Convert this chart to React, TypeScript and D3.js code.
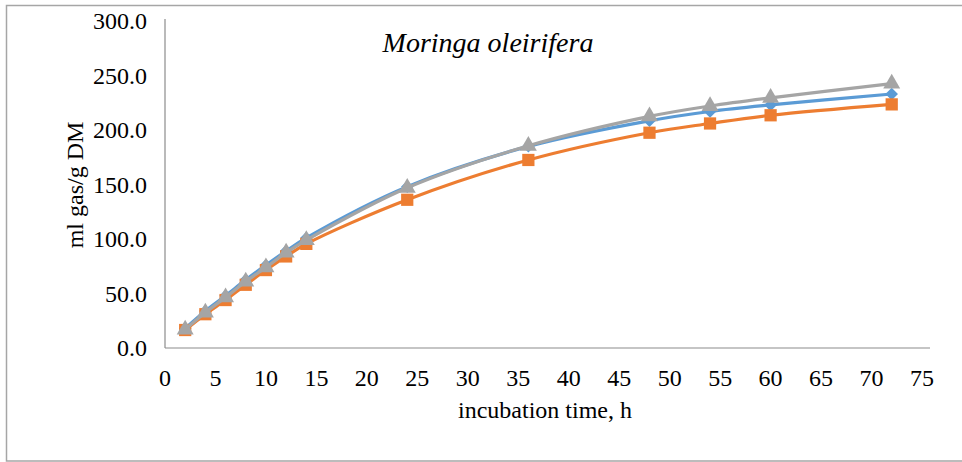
import React from 'react';
import * as d3 from 'd3';

const hours = [2, 4, 6, 8, 10, 12, 14, 24, 36, 48, 54, 60, 72];
const seriesBlue = [18, 34, 48, 62.5, 76, 89, 101, 148, 185, 208.5, 217, 223, 233];
const seriesOrange = [16.5, 31, 44, 58, 71.5, 84, 95.5, 136, 172.5, 197.5, 206, 213.5, 223.5];
const seriesGray = [17, 32.5, 46.5, 61, 74, 87.5, 99, 147, 185.5, 212.5, 222, 229.5, 242.5];
const xTicks = [0, 5, 10, 15, 20, 25, 30, 35, 40, 45, 50, 55, 60, 65, 70, 75];
const yTicks = [0, 50, 100, 150, 200, 250, 300];
const title = 'Moringa oleirifera';
const xTitle = 'incubation time, h';
const yTitle = 'ml gas/g DM';

const FONT = '"Liberation Serif", "Times New Roman", serif';

export default function App() {
  const W = 962;
  const H = 462;
  const left = 165;
  const right = 922;
  const top = 21;
  const bottom = 348;
  const x = d3.scaleLinear().domain([0, 75]).range([left, right]);
  const y = d3.scaleLinear().domain([0, 300]).range([bottom, top]);

  const line = d3
    .line<number>()
    .x((_, i) => x(hours[i]))
    .y((d) => y(d))
    .curve(d3.curveCatmullRom.alpha(0.5));

  const series = [
    { data: seriesBlue, color: '#5B9BD5', marker: 'diamond' },
    { data: seriesOrange, color: '#ED7D31', marker: 'square' },
    { data: seriesGray, color: '#A5A5A5', marker: 'triangle' },
  ];

  const sym = {
    diamond: d3.symbol().type(d3.symbolDiamond2).size(100)(),
    square: d3.symbol().type(d3.symbolSquare).size(150)(),
    triangle: d3.symbol().type(d3.symbolTriangle).size(125)(),
  } as Record<string, string>;

  return (
    <svg
      width={W}
      height={H}
      style={{ position: 'absolute', left: 0, top: 0, background: '#fff' }}
      fontFamily={FONT}
    >
      <rect x={6.5} y={5.5} width={W + 10} height={455.5} fill="#fff" stroke="#a6a6a6" strokeWidth={1.5} />
      <line x1={left} x2={left} y1={top - 2} y2={bottom} stroke="#8c8c8c" strokeWidth={1.2} />
      <line x1={left} x2={right + 8} y1={bottom} y2={bottom} stroke="#8c8c8c" strokeWidth={1.2} />
      {yTicks.map((t) => (
        <text key={t} x={147} y={y(t)} dy="0.35em" textAnchor="end" fontSize={24} fill="#000">
          {t.toFixed(1)}
        </text>
      ))}
      {xTicks.map((t) => (
        <text key={t} x={x(t)} y={386} textAnchor="middle" fontSize={24} fill="#000">
          {t}
        </text>
      ))}
      <text x={545} y={418} textAnchor="middle" fontSize={24} fill="#000">
        {xTitle}
      </text>
      <text
        transform={`translate(83,${185}) rotate(-90)`}
        textAnchor="middle"
        fontSize={24}
        fill="#000"
      >
        {yTitle}
      </text>
      <text x={488} y={52} textAnchor="middle" fontSize={28} fontStyle="italic" fill="#000">
        {title}
      </text>
      {series.map((s, si) => (
        <g key={si}>
          <path d={line(s.data) || ''} fill="none" stroke={s.color} strokeWidth={3.2} />
          {s.data.map((v, i) => (
            <path
              key={i}
              d={sym[s.marker]}
              transform={`translate(${x(hours[i])},${y(v)})`}
              fill={s.color}
            />
          ))}
        </g>
      ))}
    </svg>
  );
}
